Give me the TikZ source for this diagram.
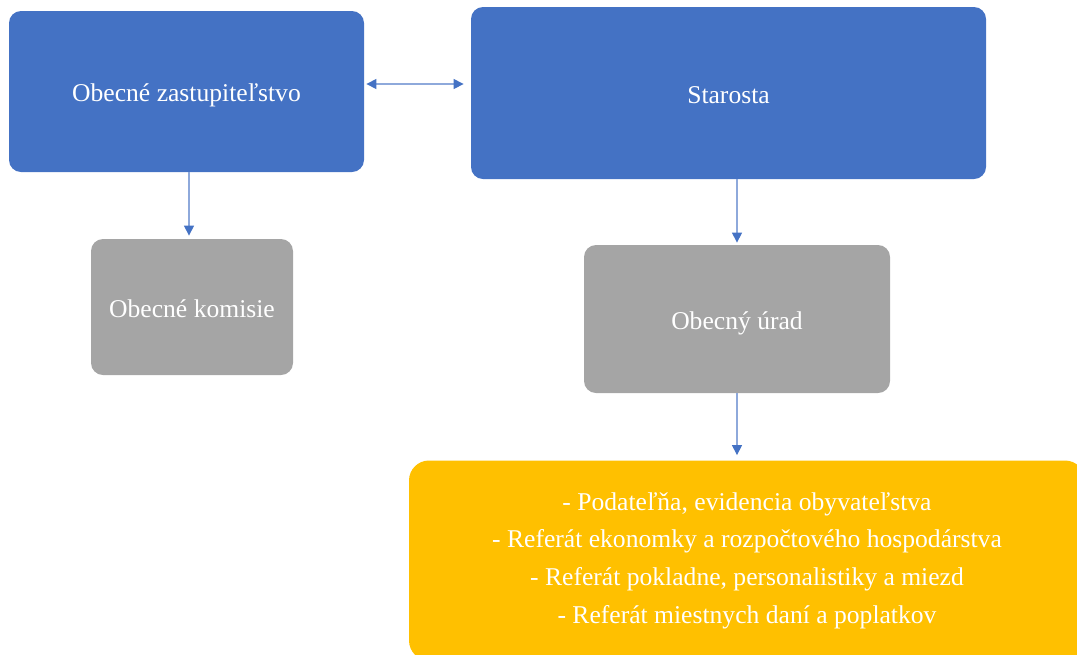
\documentclass[tikz,border=0pt]{standalone}
\usepackage{fontspec}
\setmainfont{Liberation Serif}
\usetikzlibrary{arrows.meta,shapes,positioning}
\definecolor{boxblue}{HTML}{4472C4}
\definecolor{boxgray}{HTML}{A5A5A5}
\definecolor{boxyellow}{HTML}{FFC000}
\definecolor{linkblue}{HTML}{8EA9DB}
\tikzset{
  orgbox/.style={rectangle, rounded corners=6pt, text=white, inner sep=0pt,
    font=\fontsize{12.8}{18.8}\selectfont, align=center},
  blueunit/.style={orgbox, fill=boxblue, text height=13pt, text depth=2.7pt},
  grayunit/.style={orgbox, fill=boxgray, text height=13pt, text depth=2.7pt},
  yellowunit/.style={orgbox, fill=boxyellow, rounded corners=10pt},
  link/.style={draw=linkblue, line width=0.6pt,
    -{Triangle[length=5pt,width=5pt,fill=boxblue,color=boxblue]}},
  dlink/.style={link,
    {Triangle[length=5pt,width=5pt,fill=boxblue,color=boxblue]}-{Triangle[length=5pt,width=5pt,fill=boxblue,color=boxblue]}}
}
\begin{document}
\begin{tikzpicture}[x=0.5pt,y=-0.5pt]
\useasboundingbox (0,0) rectangle (1077,654);
\node[blueunit, minimum width=177.5pt, minimum height=80.5pt] (zastup) at (186.5,91.5) {Obecné zastupiteľstvo};
\node[blueunit, minimum width=257.5pt, minimum height=86pt] (starosta) at (728.5,93) {Starosta};
\node[grayunit, minimum width=101pt, minimum height=68pt] (komisie) at (192,307) {Obecné komisie};
\node[grayunit, minimum width=153pt, minimum height=74pt] (urad) at (737,319) {Obecný úrad};
\node[yellowunit, minimum width=338pt, minimum height=100pt] (referaty) at (747,560.5)
  {- Podateľňa, evidencia obyvateľstva\\
   - Referát ekonomky a rozpočtového hospodárstva\\
   - Referát pokladne, personalistiky a miezd\\
   - Referát miestnych daní a poplatkov};

\draw[dlink, shorten <=1pt, shorten >=3.5pt] ([yshift=3.75pt]zastup.east) -- ([yshift=3.75pt]zastup.east -| starosta.west);
\draw[link, shorten >=1.5pt] ([xshift=1.25pt]zastup.south) -- ([xshift=1.25pt]zastup.south |- komisie.north);
\draw[link, shorten >=1pt] (urad.north |- starosta.south) -- (urad.north);
\draw[link, shorten >=2.5pt] (urad.south) -- (urad.south |- referaty.north);
\end{tikzpicture}
\end{document}
